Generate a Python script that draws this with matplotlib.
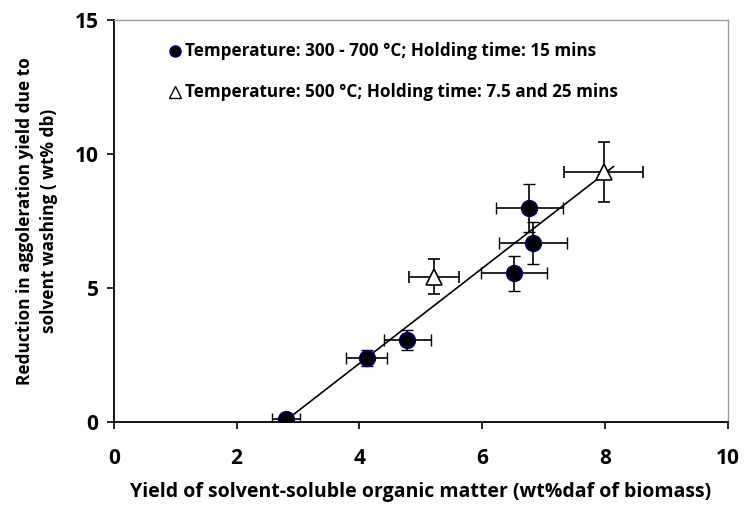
import matplotlib.pyplot as plt

# Solvent-soluble yield vs reduction in agglomeration yield
# temperature series (300-700 C, 15 min hold)
temp_x = [2.8, 4.12, 4.78, 6.52, 6.83, 6.77]
temp_y = [0.1, 2.38, 3.06, 5.55, 6.67, 7.98]
temp_xerr = [0.23, 0.33, 0.38, 0.53, 0.56, 0.54]
temp_yerr = [0.15, 0.3, 0.37, 0.65, 0.79, 0.9]

# holding time series (500 C, 7.5 and 25 min)
hold_x = [5.22, 7.98]
hold_y = [5.42, 9.33]
hold_xerr = [0.41, 0.64]
hold_yerr = [0.66, 1.12]

# linear fit line
fit_x = [2.77, 8.14]
fit_y = [0.0, 9.53]

plt.rcParams['font.family'] = ['Open Sans', 'DejaVu Sans']
plt.rcParams['font.weight'] = 'bold'

fig = plt.figure(figsize=(7.44, 5.22), dpi=100)
ax = fig.add_axes([0.153, 0.1916, 0.825, 0.7701])

ax.plot(fit_x, fit_y, color='black', linewidth=1.2, zorder=2)

ax.errorbar(temp_x, temp_y, xerr=temp_xerr, yerr=temp_yerr, fmt='o',
            markersize=11.5, markerfacecolor='black', markeredgecolor='#000080',
            markeredgewidth=1.0, ecolor='black', elinewidth=1.2, capsize=4,
            capthick=1.2, zorder=3)
ax.errorbar(hold_x, hold_y, xerr=hold_xerr, yerr=hold_yerr, fmt='^',
            markersize=12, markerfacecolor='white', markeredgecolor='black',
            markeredgewidth=1.2, ecolor='black', elinewidth=1.2, capsize=4,
            capthick=1.2, zorder=3)

ax.set_xlim(0, 10)
ax.set_ylim(0, 15)
ax.set_xticks([0, 2, 4, 6, 8, 10])
ax.set_yticks([0, 5, 10, 15])
ax.tick_params(direction='out', length=5, width=1.2, labelsize=15)
ax.tick_params(axis='x', pad=14)
ax.tick_params(axis='y', pad=6)
for lbl in ax.get_xticklabels() + ax.get_yticklabels():
    lbl.set_fontweight('bold')

ax.spines['left'].set_linewidth(1.3)
ax.spines['bottom'].set_linewidth(1.3)
for s in ['top', 'right']:
    ax.spines[s].set_color('#999999')
    ax.spines[s].set_linewidth(1.0)

ax.set_xlabel('Yield of solvent-soluble organic matter (wt%daf of biomass)',
              fontsize=14, fontweight='bold', labelpad=9)
ax.set_ylabel('Reduction in aggoleration yield due to\nsolvent washing ( wt% db)',
              fontsize=12.4, fontweight='bold', labelpad=12, linespacing=1.4)

# legend drawn as marker + text rows
ax.plot([1.0], [13.84], 'o', markersize=8, markerfacecolor='black',
        markeredgecolor='#000080', clip_on=False)
ax.text(1.16, 13.84, 'Temperature: 300 - 700 °C; Holding time: 15 mins',
        fontsize=12.3, fontweight='bold', va='center')
ax.plot([1.0], [12.3], '^', markersize=8, markerfacecolor='white',
        markeredgecolor='black', markeredgewidth=1.0, clip_on=False)
ax.text(1.16, 12.3, 'Temperature: 500 °C; Holding time: 7.5 and 25 mins',
        fontsize=12.3, fontweight='bold', va='center')

plt.savefig('out.png', dpi=100)
